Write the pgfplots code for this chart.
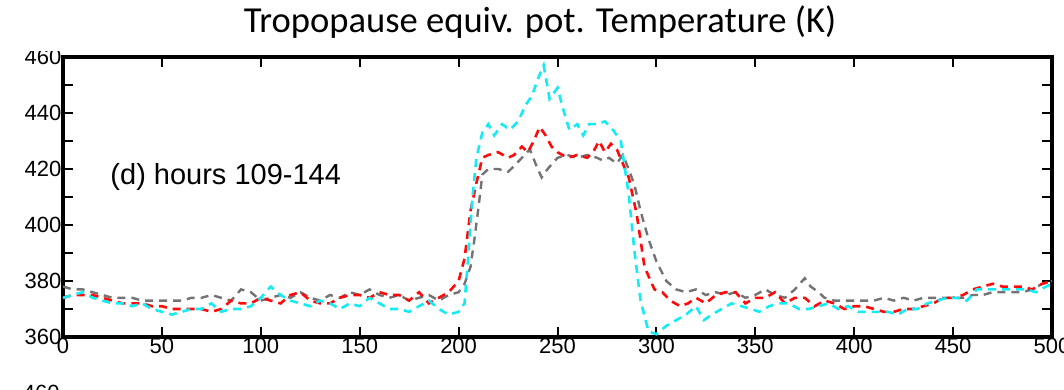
\documentclass[border=0pt]{standalone}
\usepackage{fontspec}
\setmainfont{Liberation Sans}
\newfontfamily\titlefont{Carlito}
\usepackage{pgfplots}
\pgfplotsset{compat=1.18}
\usepackage{pgfplotstable}

% equivalent potential temperature at the tropopause along the section
\pgfplotstableread{
x T
0 378
5 377
10 377
15 376
20 375
25 374
30 374
35 374
40 373
45 373
50 373
55 373
60 373
65 374
70 374
75 375
80 374
85 373
90 377
95 376
100 373
105 374
110 375
115 374
120 376
125 374
130 373
135 375
140 374
145 376
150 375
155 377
160 375
165 374
170 375
175 373
180 374
185 375
190 373
195 375
200 376
203 379
206 385
208 395
210 406
212 418
215 420
220 420
225 419
228 421
232 424
236 427
240 420
242 417
245 420
250 424
255 425
260 424
265 425
270 424
273 423
276 424
280 422
283 425
286 420
289 414
292 405
296 395
300 387
305 380
310 377
315 376
320 377
325 375
330 376
335 375
340 376
345 374
350 375
355 377
360 375
365 374
370 377
375 381
378 378
382 376
385 374
390 373
395 373
400 373
405 373
410 373
415 374
420 373
425 374
430 373
435 374
440 374
445 374
450 374
455 374
460 375
465 375
470 376
475 376
480 376
485 376
490 377
495 379
500 380
}\graydata

\pgfplotstableread{
x T
0 374
5 375
10 375
15 375
20 374
25 373
30 372
35 372
40 372
45 371
50 371
55 370
60 370
65 370
70 370
75 369
80 370
85 373
90 372
95 372
100 374
105 373
110 372
115 375
120 376
125 373
130 372
135 372
140 374
145 375
150 375
155 374
160 376
165 375
170 375
175 373
180 376
185 372
190 374
195 376
200 380
203 388
206 405
209 415
212 424
215 425
220 426
225 424
228 425
232 428
235 426
238 430
241 435
244 432
247 428
250 426
255 424
260 425
265 424
268 426
271 430
274 426
277 429
280 427
283 422
286 417
290 404
294 385
299 377
303 376
307 373
312 371
316 372
320 374
325 372
330 375
335 376
340 376
345 372
350 374
355 374
360 376
365 372
370 374
375 374
380 371
385 373
390 372
395 370
400 371
405 371
410 370
415 369
420 369
425 370
430 370
435 371
440 372
445 374
450 374
455 375
460 377
465 378
470 379
475 378
480 378
485 378
490 377
495 379
500 380
}\reddata

\pgfplotstableread{
x T
0 374
5 375
10 376
15 374
20 373
25 372
30 372
35 371
40 372
45 370
50 369
55 368
60 369
65 370
70 370
75 372
80 369
85 370
90 370
95 371
100 374
105 378
110 375
115 373
120 372
125 371
130 373
135 372
140 370
145 372
150 371
155 374
160 372
165 370
170 370
175 369
180 371
185 373
190 370
195 368
200 369
203 372
205 390
207 410
209 424
212 433
215 436
218 432
222 436
226 434
230 437
234 443
237 446
240 452
243 457
246 445
250 449
253 441
256 434
260 436
263 432
266 436
270 436
274 437
278 434
282 430
286 411
289 390
292 373
296 362
300 361
305 364
310 366
315 368
320 371
324 366
328 368
333 370
338 372
343 371
348 370
352 369
357 371
362 372
367 372
372 370
377 370
382 371
387 372
392 370
397 371
402 369
407 369
412 369
417 369
422 368
427 370
432 370
437 372
442 373
447 374
452 374
457 373
462 377
467 377
472 377
477 377
482 377
487 377
492 376
497 378
500 379
}\cyandata

\definecolor{lgray}{RGB}{115,115,115}
\definecolor{lred}{RGB}{255,10,10}
\definecolor{lcyan}{RGB}{20,235,245}

\begin{document}
\begin{tikzpicture}
\clip (0,0) rectangle (532pt,195pt);
\begin{axis}[
  at={(31.5pt,26.5pt)}, anchor=south west,
  scale only axis, width=494.5pt, height=140pt,
  xmin=0, xmax=500, ymin=360, ymax=460,
  xtick={0,50,...,500},
  ytick={360,380,...,460},
  minor ytick={370,390,...,450},
  tick align=inside,
  major tick length=5pt, minor tick length=5pt,
  every tick/.style={black, line width=1pt},
  axis line style={black, line width=1.6pt},
  tick label style={font=\fontsize{11}{12}\selectfont, inner sep=0.6pt},
  /pgf/number format/assume math mode=true,
  /pgf/number format/1000 sep={},
  clip=true,
]
\addplot[lgray, line width=1.2pt, dash pattern=on 4pt off 3pt] table[x=x,y=T] {\graydata};
\addplot[lred, line width=1.3pt, dash pattern=on 4pt off 3pt] table[x=x,y=T] {\reddata};
\addplot[lcyan, line width=1.3pt, dash pattern=on 4pt off 3pt] table[x=x,y=T] {\cyandata};
\node[anchor=west, inner sep=0pt, font=\fontsize{14.5}{16}\selectfont] at (axis cs:23.8,417) {(d) hours 109-144};
\end{axis}
% white title strip over the top of the frame label
\fill[white] (0,169.5pt) rectangle (532pt,195pt);
\node[font=\titlefont\fontsize{18.3}{20}\selectfont, inner sep=0pt] at (270pt,184pt) {Tropopause equiv. pot. Temperature (K)};
% top of the next panel's first tick label
\node[anchor=east, inner sep=0pt, font=\fontsize{11}{12}\selectfont] at (30pt,-1.5pt) {460};
\end{tikzpicture}
\end{document}
